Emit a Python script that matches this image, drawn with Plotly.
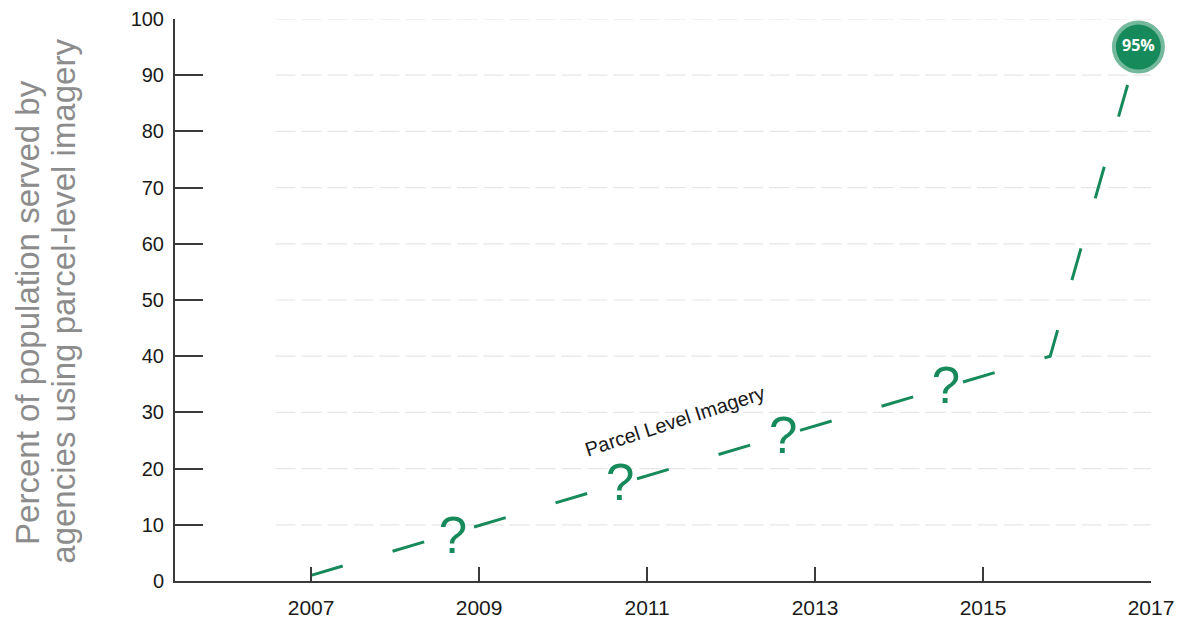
import plotly.graph_objects as go

# Adoption path of parcel-level imagery (percent of population served)
years = [2007, 2015.8, 2016.85]
percent = [1, 40, 95]

# Unknown intermediate values, marked with question marks along the path
unknown_years = [2008.69, 2010.68, 2012.62, 2014.56]
unknown_levels = [7.3, 16.6, 25.1, 34.0]

x_ticks = [2007, 2009, 2011, 2013, 2015, 2017]
y_ticks = [0, 10, 20, 30, 40, 50, 60, 70, 80, 90, 100]

title_lines = ["Percent of population served by", "agencies using parcel-level imagery"]

GREEN = "#178a5b"
FONT = "Liberation Sans, Arial, sans-serif"

fig = go.Figure()

# dashed adoption line
fig.add_trace(go.Scatter(
    x=years, y=percent, mode="lines",
    line=dict(color=GREEN, width=3, dash="33px,52px"),
    hoverinfo="skip", showlegend=False, cliponaxis=False,
))

# question marks in the gaps of the dashed line
fig.add_trace(go.Scatter(
    x=unknown_years, y=unknown_levels, mode="text",
    text=["?"] * len(unknown_years),
    textfont=dict(family=FONT, size=51, color=GREEN),
    textposition="middle center",
    hoverinfo="skip", showlegend=False, cliponaxis=False,
))

# end-point badge
fig.add_trace(go.Scatter(
    x=[years[-1]], y=[percent[-1]], mode="markers+text",
    marker=dict(size=45, color=GREEN,
                line=dict(color="rgba(23,138,91,0.6)", width=8)),
    text=[f"{percent[-1]}%"],
    textfont=dict(family="Open Sans, Arial, sans-serif", size=16, color="white", weight="bold"),
    textposition="middle center",
    hoverinfo="skip", showlegend=False, cliponaxis=False,
))

# faint horizontal guides
for v in y_ticks[1:]:
    fig.add_shape(type="line", xref="paper", yref="y",
                  x0=0.103, x1=1.0, y0=v, y1=v,
                  line=dict(color="#e6e6e6", width=1.2, dash="20px,6px"),
                  layer="below")

# series label following the line
fig.add_annotation(
    x=2011.33, y=28.4, text="Parcel Level Imagery", showarrow=False,
    textangle=-18, font=dict(family=FONT, size=20, color="#1a1a1a"),
)

# two-line vertical axis title
for line, xpix, ypos in zip(title_lines, [28, 64], [0.477, 0.497]):
    fig.add_annotation(
        xref="paper", yref="paper", x=(xpix - 175) / (1180 - 175 - 29), y=ypos,
        xanchor="center", yanchor="middle",
        text=line, showarrow=False, textangle=-90,
        font=dict(family=FONT, size=33, color="#8c8c8c"),
    )

fig.update_layout(
    width=1180, height=623,
    margin=dict(l=175, r=29, t=19, b=42),
    paper_bgcolor="white", plot_bgcolor="white",
    font=dict(family=FONT, color="#1a1a1a"),
    xaxis=dict(
        range=[2005.38, 2017], tickvals=x_ticks, ticktext=[str(t) for t in x_ticks],
        showgrid=False, zeroline=False, automargin=False,
        showline=True, linecolor="#3a3a3a", linewidth=2,
        ticks="inside", ticklen=14, tickwidth=1.5, tickcolor="#3a3a3a",
        tickfont=dict(size=21, color="#1a1a1a"), ticklabelstandoff=7,
    ),
    yaxis=dict(
        range=[0, 100], tickvals=y_ticks,
        showgrid=False, zeroline=False, automargin=False,
        showline=True, linecolor="#3a3a3a", linewidth=2,
        ticks="inside", ticklen=28, tickwidth=1.5, tickcolor="#3a3a3a",
        tickfont=dict(size=20, color="#1a1a1a"), ticklabelstandoff=5,
    ),
)

fig.write_html("out.html")
